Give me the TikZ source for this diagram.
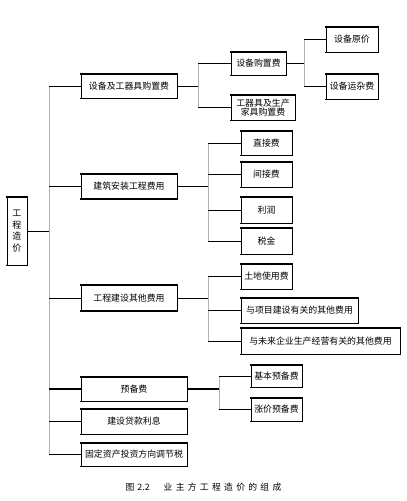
\documentclass[tikz,border=0pt]{standalone}
\usepackage{fontspec}
\setmainfont{Noto Sans CJK SC}
\begin{document}
\begin{tikzpicture}[x=1pt,y=-1pt,
  box/.style={draw=black,line width=0.6pt,inner sep=0pt,font=\fontsize{8.9}{10}\selectfont,align=center,
    append after command={\pgfextra{\draw[line width=1.6pt,line cap=butt]
      ([xshift=-0.3pt]\tikzlastnode.north west) -- ([xshift=0.3pt]\tikzlastnode.north east)
      ([xshift=-0.3pt]\tikzlastnode.south west) -- ([xshift=0.3pt]\tikzlastnode.south east);}}},
  hline/.style={line width=0.7pt,black},
  hthick/.style={line width=1.5pt,black},
  vline/.style={line width=0.7pt,gray!60},
]
\useasboundingbox (0,0) rectangle (407,501);

% root
\node[box,minimum width=20pt,minimum height=68pt,font=\fontsize{9}{11.5}\selectfont] (r) at (17,231) {工\\程\\造\\价};

% level 1
\node[box,minimum width=96pt,minimum height=24pt] (b1) at (129,86) {设备及工器具购置费};
\node[box,minimum width=96pt,minimum height=24pt] (b2) at (129,186.5) {建筑安装工程费用};
\node[box,minimum width=96pt,minimum height=25pt] (b3) at (129,298) {工程建设其他费用};
\node[box,minimum width=106pt,minimum height=24pt] (b4) at (134,389) {预备费};
\node[box,minimum width=106pt,minimum height=25pt] (b5) at (134,421.5) {建设贷款利息};
\node[box,minimum width=106pt,minimum height=23pt] (b6) at (134,454.5) {固定资产投资方向调节税};

% trunk
\coordinate (r0) at (49,231);
\coordinate (t1) at (49,86);
\coordinate (t2) at (49,186.5);
\coordinate (t3) at (49,298);
\coordinate (t4) at (49,389);
\coordinate (t5) at (49,421.5);
\coordinate (t6) at (49,454.5);
\draw[vline] (t1) -- (t6);
\draw[hline] (r.east |- r0) -- (r0);
\draw[hline] (t1) -- (b1.west);
\draw[hline] (t2) -- (b2.west);
\draw[hline] (t3) -- (b3.west);
\draw[hthick] (t4) -- (b4.west);
\draw[hline] (t5) -- (b5.west);
\draw[hline] (t6) -- (b6.west);

% box1 children
\node[box,minimum width=55pt,minimum height=23pt] (a1) at (258.5,63.5) {设备购置费};
\node[box,minimum width=64pt,minimum height=25pt,font=\fontsize{8.9}{9.6}\selectfont] (a2) at (263,107.5) {工器具及生产\\家具购置费};
\coordinate (s1) at (198,86);
\coordinate (s1a) at (198,63.5);
\coordinate (s1b) at (198,107.5);
\draw[hline] (b1.east) -- (s1);
\draw[vline] (s1a) -- (s1b);
\draw[hline] (s1a) -- (a1.west);
\draw[hline] (s1b) -- (a2.west);

\node[box,minimum width=52pt,minimum height=25pt] (c1) at (352,39.5) {设备原价};
\node[box,minimum width=52pt,minimum height=25pt] (c2) at (352,86.5) {设备运杂费};
\coordinate (s2) at (304,63.5);
\coordinate (s2a) at (304,39.5);
\coordinate (s2b) at (304,86.5);
\draw[hline] (a1.east) -- (s2);
\draw[vline] (s2a) -- (s2b);
\draw[hline] (s2a) -- (c1.west);
\draw[hline] (s2b) -- (c2.west);

% box2 children
\node[box,minimum width=51pt,minimum height=24pt] (d1) at (266.5,143) {直接费};
\node[box,minimum width=51pt,minimum height=25pt] (d2) at (266.5,174.5) {间接费};
\node[box,minimum width=51pt,minimum height=26pt] (d3) at (266.5,210) {利润};
\node[box,minimum width=51pt,minimum height=26pt] (d4) at (266.5,241) {税金};
\coordinate (s3) at (208,186.5);
\coordinate (s3a) at (208,143);
\coordinate (s3b) at (208,174.5);
\coordinate (s3c) at (208,210);
\coordinate (s3d) at (208,241);
\draw[hline] (b2.east) -- (s3);
\draw[vline] (s3a) -- (s3d);
\draw[hline] (s3a) -- (d1.west);
\draw[hline] (s3b) -- (d2.west);
\draw[hline] (s3c) -- (d3.west);
\draw[hline] (s3d) -- (d4.west);

% box3 children
\node[box,minimum width=51pt,minimum height=25pt] (e1) at (266.5,276.5) {土地使用费};
\node[box,minimum width=117pt,minimum height=25pt] (e2) at (299.5,310.5) {与项目建设有关的其他费用};
\node[box,minimum width=159pt,minimum height=26pt] (e3) at (320.5,341) {与未来企业生产经营有关的其他费用};
\coordinate (s4) at (208,298);
\coordinate (s4a) at (208,276.5);
\coordinate (s4b) at (208,310.5);
\coordinate (s4c) at (208,341);
\draw[hline] (b3.east) -- (s4);
\draw[vline] (s4a) -- (s4c);
\draw[hline] (s4a) -- (e1.west);
\draw[hline] (s4b) -- (e2.west);
\draw[hline] (s4c) -- (e3.west);

% box4 children
\node[box,minimum width=51pt,minimum height=22pt] (f1) at (276.5,376) {基本预备费};
\node[box,minimum width=51pt,minimum height=23pt] (f2) at (276.5,409.5) {涨价预备费};
\coordinate (s5) at (219,389);
\coordinate (s5a) at (219,376);
\coordinate (s5b) at (219,409.5);
\draw[hthick] (b4.east) -- (s5);
\draw[vline] (s5a) -- (s5b);
\draw[hline] (s5a) -- (f1.west);
\draw[hline] (s5b) -- (f2.west);

% caption
\node[font=\fontsize{8.8}{10}\selectfont] (cap) at (203.5,487) {图\hspace{3pt}2.2\hspace{14pt}业\hspace{3.3pt}主\hspace{3.3pt}方\hspace{3.3pt}工\hspace{3.3pt}程\hspace{3.3pt}造\hspace{3.3pt}价\hspace{3.3pt}的\hspace{3.3pt}组\hspace{3.3pt}成};
\end{tikzpicture}
\end{document}
